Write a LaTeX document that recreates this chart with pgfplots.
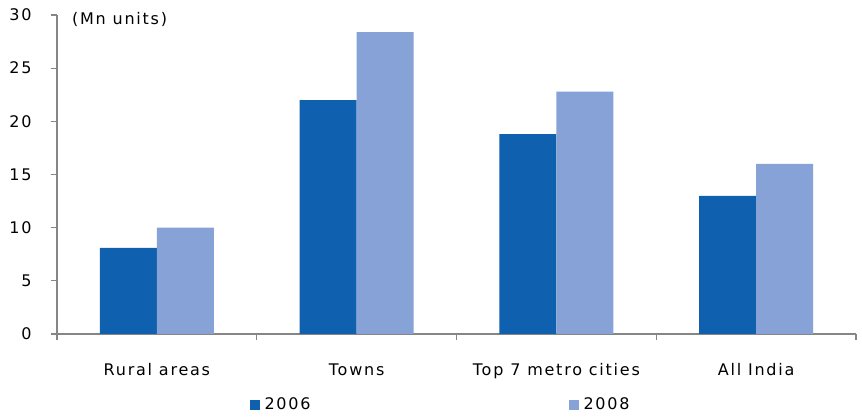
\documentclass[border=0pt]{standalone}
\usepackage{pgfplots}
\pgfplotsset{compat=1.18}
\usepackage{fontspec}
\setmainfont{DejaVu Sans}[LetterSpace=11]
\definecolor{dblue}{RGB}{15,96,174}
\definecolor{lblue}{RGB}{134,162,214}
\definecolor{axgray}{RGB}{134,134,134}
\begin{document}
\fontsize{16pt}{19pt}\selectfont
\begin{tikzpicture}
\useasboundingbox (-57pt,-83pt) rectangle (805pt,334pt);
\begin{axis}[
  scale only axis,
  width=799pt, height=319pt,
  xmin=-0.5, xmax=3.5, ymin=0, ymax=30,
  ybar=0pt, bar width=57pt,
  axis x line*=bottom, axis y line*=left,
  axis line style={axgray, line width=1.2pt},
  xtick={0,1,2,3},
  xticklabels={Rural areas, Towns, Top 7 metro cities, All India},
  major x tick style={draw=none},
  minor xtick={-0.5,0.5,1.5,2.5,3.5},
  minor x tick style={axgray, line width=1.2pt},
  minor tick length=6pt,
  xticklabel style={yshift=-18pt, font=\fontsize{16pt}{19pt}\selectfont},
  ytick={0,5,...,30},
  y tick style={axgray, line width=1.2pt},
  major tick length=6pt,
  tick align=outside,
  yticklabel style={xshift=-14pt, font=\fontsize{16pt}{19pt}\selectfont},
  /pgf/number format/assume math mode=true,
  legend style={draw=none, at={(0.48,-0.223)}, anchor=center,
    legend columns=2, font=\fontsize{16pt}{19pt}\selectfont,
    /tikz/every even column/.append style={column sep=256pt}},
  legend image code/.code={\fill[#1] (0pt,-5pt) rectangle (10pt,5pt); \path (13pt,0pt);},
  clip=false,
]
\addplot[fill=dblue, draw=none] coordinates {(0,8.1) (1,22.0) (2,18.8) (3,13.0)};
\addplot[fill=lblue, draw=none] coordinates {(0,10.0) (1,28.4) (2,22.8) (3,16.0)};
\legend{2006, 2008}
\node[anchor=west] at (rel axis cs:0.012,0.985) {(Mn units)};
\end{axis}
\end{tikzpicture}
\end{document}
